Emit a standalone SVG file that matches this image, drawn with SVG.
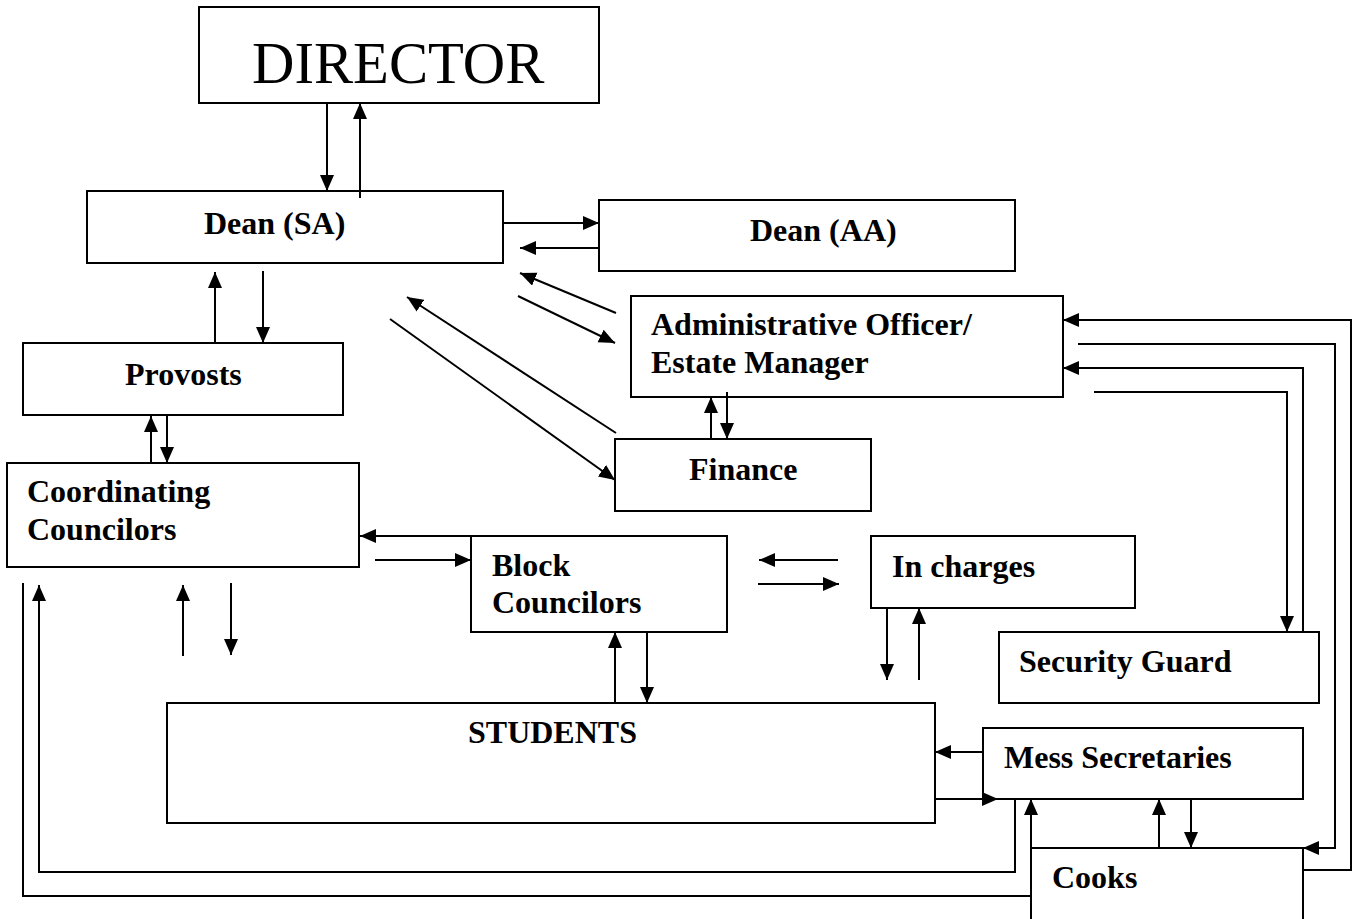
<svg xmlns="http://www.w3.org/2000/svg" width="1358" height="919" viewBox="0 0 1358 919">
<style>
.box{fill:#fff;stroke:#000;stroke-width:2}
.t{font-family:"Liberation Serif","Times New Roman",serif;font-weight:bold;font-size:32px;fill:#000}
.big{font-family:"Liberation Serif","Times New Roman",serif;font-size:58.7px;fill:#000}
.c line,.c polyline{stroke:#000;stroke-width:2;fill:none}
.a{marker-end:url(#ah)}
</style>
<defs>
<marker id="ah" markerUnits="userSpaceOnUse" markerWidth="17" markerHeight="15" refX="16" refY="7" orient="auto">
<path d="M0,0 L16,7 L0,14 z" fill="#000"/>
</marker>
</defs>
<rect width="1358" height="919" fill="#fff"/>
<g id="director"><rect class="box" x="199" y="7" width="400" height="96"/><text class="big" x="252" y="83">DIRECTOR</text></g>
<g id="dean-sa"><rect class="box" x="87" y="191" width="416" height="72"/><text class="t" x="204" y="234">Dean (SA)</text></g>
<g id="dean-aa"><rect class="box" x="599" y="200" width="416" height="71"/><text class="t" x="750" y="241">Dean (AA)</text></g>
<g id="admin"><rect class="box" x="631" y="296" width="432" height="101"/><text class="t" x="651" y="335">Administrative Officer/</text><text class="t" x="651" y="373">Estate Manager</text></g>
<g id="finance"><rect class="box" x="615" y="439" width="256" height="72"/><text class="t" x="689" y="480">Finance</text></g>
<g id="provosts"><rect class="box" x="23" y="343" width="320" height="72"/><text class="t" x="125" y="385">Provosts</text></g>
<g id="coord"><rect class="box" x="7" y="463" width="352" height="104"/><text class="t" x="27" y="502">Coordinating</text><text class="t" x="27" y="540">Councilors</text></g>
<g id="block"><rect class="box" x="471" y="536" width="256" height="96"/><text class="t" x="492" y="576">Block</text><text class="t" x="492" y="613">Councilors</text></g>
<g id="incharges"><rect class="box" x="871" y="536" width="264" height="72"/><text class="t" x="892" y="577">In charges</text></g>
<g id="security"><rect class="box" x="999" y="632" width="320" height="71"/><text class="t" x="1019" y="672">Security Guard</text></g>
<g id="students"><rect class="box" x="167" y="703" width="768" height="120"/><text class="t" x="468" y="743">STUDENTS</text></g>
<g id="mess"><rect class="box" x="983" y="728" width="320" height="71"/><text class="t" x="1004" y="768">Mess Secretaries</text></g>
<g id="cooks"><rect class="box" x="1031" y="848" width="272" height="80"/><text class="t" x="1052" y="888">Cooks</text></g>
<g class="c" id="connectors">
<line class="a" x1="327" y1="103" x2="327" y2="191"/>
<line class="a" x1="360" y1="198" x2="360" y2="103"/>
<line class="a" x1="503" y1="223" x2="599" y2="223"/>
<line class="a" x1="599" y1="248" x2="520" y2="248"/>
<line class="a" x1="616" y1="313" x2="520" y2="273"/>
<line class="a" x1="518" y1="296" x2="615" y2="343"/>
<line class="a" x1="616" y1="433" x2="407" y2="297"/>
<line class="a" x1="390" y1="319" x2="615" y2="480"/>
<line class="a" x1="215" y1="343" x2="215" y2="272"/>
<line class="a" x1="263" y1="271" x2="263" y2="343"/>
<line class="a" x1="151" y1="463" x2="151" y2="416"/>
<line class="a" x1="167" y1="416" x2="167" y2="463"/>
<line class="a" x1="471" y1="536" x2="360" y2="536"/>
<line class="a" x1="375" y1="560" x2="471" y2="560"/>
<line class="a" x1="615" y1="703" x2="615" y2="632"/>
<line class="a" x1="647" y1="632" x2="647" y2="703"/>
<line class="a" x1="183" y1="656" x2="183" y2="585"/>
<line class="a" x1="231" y1="583" x2="231" y2="655"/>
<line class="a" x1="838" y1="560" x2="759" y2="560"/>
<line class="a" x1="758" y1="584" x2="839" y2="584"/>
<line class="a" x1="887" y1="608" x2="887" y2="680"/>
<line class="a" x1="919" y1="680" x2="919" y2="608"/>
<line class="a" x1="711" y1="439" x2="711" y2="397"/>
<line class="a" x1="727" y1="392" x2="727" y2="439"/>
<polyline class="a" points="1303,870 1351,870 1351,320 1063,320"/>
<polyline class="a" points="1078,344 1335,344 1335,848 1303,848"/>
<polyline class="a" points="1303,632 1303,368 1063,368"/>
<polyline class="a" points="1094,392 1287,392 1287,632"/>
<line class="a" x1="983" y1="752" x2="935" y2="752"/>
<line class="a" x1="935" y1="799" x2="998" y2="799"/>
<line class="a" x1="1159" y1="848" x2="1159" y2="799"/>
<line class="a" x1="1191" y1="799" x2="1191" y2="848"/>
<polyline class="a" points="1015,799 1015,872 39,872 39,585"/>
<polyline points="1031,896 23,896 23,583"/>
<line class="a" x1="1031" y1="848" x2="1031" y2="799"/>
</g>
</svg>
